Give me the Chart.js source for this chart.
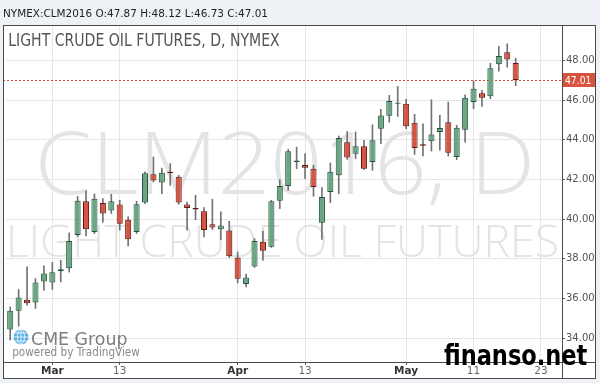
<!DOCTYPE html>
<html>
<head>
<meta charset="utf-8">
<script src="https://cdn.jsdelivr.net/npm/chart.js@4.4.0/dist/chart.umd.min.js"></script>
<style>
html, body { margin: 0; padding: 0; background: #eef1f6; }
canvas { display: block; }
</style>
</head>
<body>
<canvas id="chart" width="600" height="383"></canvas>
<script>
// trading days (last 5 are empty slots to the right of the last bar)
var days = ['Feb 24','Feb 25','Feb 26','Feb 29','Mar 1','Mar 2','Mar 3','Mar 4','Mar 7','Mar 8',
  'Mar 9','Mar 10','Mar 11','Mar 14','Mar 15','Mar 16','Mar 17','Mar 18','Mar 21','Mar 22',
  'Mar 23','Mar 24','Mar 25','Mar 28','Mar 29','Mar 30','Mar 31','Apr 1','Apr 4','Apr 5',
  'Apr 6','Apr 7','Apr 8','Apr 11','Apr 12','Apr 13','Apr 14','Apr 15','Apr 18','Apr 19',
  'Apr 20','Apr 21','Apr 22','Apr 25','Apr 26','Apr 27','Apr 28','Apr 29','May 2','May 3',
  'May 4','May 5','May 6','May 9','May 10','May 11','May 12','May 13','May 16','May 17',
  'May 18','May 19','May 20','May 23','May 24','May 25'];

var open = [34.43, 35.37, 35.93, 35.79, 36.85, 36.80, 37.37, 37.52, 39.20, 40.90,
  39.35, 40.81, 40.43, 40.73, 39.96, 39.35, 40.83, 42.26, 41.84, 42.39,
  42.14, 40.73, 40.56, 40.39, 39.74, 39.49, 39.42, 38.06, 36.73, 37.61,
  38.85, 38.60, 40.93, 41.67, 42.88, 42.73, 42.54, 39.82, 41.37, 42.21,
  43.87, 43.30, 43.67, 42.88, 44.56, 45.21, 45.82, 45.82, 44.86, 43.78,
  43.93, 44.39, 44.89, 43.13, 44.51, 45.90, 46.35, 46.20, 47.81, 48.42, 47.87];
var high = [35.57, 36.45, 37.59, 37.00, 37.64, 37.81, 37.92, 39.30, 41.15, 41.42,
  41.27, 41.03, 41.25, 40.95, 40.11, 40.90, 42.38, 43.13, 42.57, 42.80,
  42.21, 40.86, 41.20, 40.58, 41.00, 40.36, 39.89, 38.34, 37.22, 39.02,
  39.40, 40.95, 41.99, 43.52, 43.63, 43.30, 42.71, 41.59, 42.83, 44.19,
  44.42, 44.39, 43.97, 44.76, 45.53, 46.24, 46.69, 46.04, 45.28, 44.81,
  46.02, 45.23, 45.90, 44.73, 46.27, 46.96, 46.49, 47.86, 48.71, 48.84, 48.12];
var low = [33.90, 34.60, 35.66, 35.49, 36.41, 36.45, 36.83, 37.33, 39.13, 39.15,
  39.27, 39.85, 40.28, 39.44, 38.64, 39.27, 40.78, 41.87, 41.28, 41.70,
  40.75, 39.44, 39.97, 39.10, 39.47, 38.97, 38.06, 36.78, 36.58, 37.56,
  37.92, 38.57, 40.53, 41.45, 42.54, 42.04, 41.15, 38.97, 40.83, 41.28,
  43.01, 43.05, 42.51, 42.46, 43.80, 44.89, 45.18, 44.56, 43.26, 43.18,
  43.43, 43.47, 43.18, 43.00, 43.88, 45.57, 45.68, 46.07, 47.46, 47.66, 46.73];
var close = [35.37, 36.05, 35.75, 36.80, 37.25, 37.32, 37.47, 38.90, 40.93, 39.49,
  41.03, 40.28, 40.90, 39.76, 38.98, 40.75, 42.31, 41.95, 42.34, 42.32,
  40.83, 40.56, 40.48, 39.45, 39.57, 39.67, 38.13, 36.99, 37.05, 38.90,
  38.40, 40.90, 41.67, 43.42, 42.95, 42.59, 41.62, 41.11, 42.39, 44.09,
  43.10, 43.67, 42.54, 43.97, 45.23, 45.95, 45.87, 44.68, 43.58, 43.70,
  44.26, 44.59, 43.35, 44.61, 46.12, 46.57, 46.12, 47.61, 48.22, 48.05, 47.01];

var priceTicks = [34, 36, 38, 40, 42, 44, 46, 48];
// x labels by slot index
var dayTicks = { 5: 'Mar', 13: '13', 27: 'Apr', 35: '13', 47: 'May', 55: '11', 63: '23' };
var lastPrice = 47.01;

var header = 'NYMEX:CLM2016 O:47.87 H:48.12 L:46.73 C:47.01';
var title = 'LIGHT CRUDE OIL FUTURES, D, NYMEX';

var bodies = open.map(function (o, i) { return [o, close[i]]; });
var wicks = open.map(function (o, i) { return [low[i], high[i]]; });
var fills = open.map(function (o, i) { return close[i] >= o ? '#6ba583' : '#d75442'; });
var edges = open.map(function (o, i) { return close[i] >= o ? '#225437' : '#5b1a13'; });

function fitText(ctx, text, left, right, baseline, font, color) {
  ctx.save();
  ctx.font = font;
  ctx.fillStyle = color;
  ctx.textAlign = 'left';
  ctx.textBaseline = 'alphabetic';
  var m = ctx.measureText(text);
  var ink = m.actualBoundingBoxLeft + m.actualBoundingBoxRight;
  ctx.translate(left, baseline);
  ctx.scale((right - left) / ink, 1);
  ctx.fillText(text, m.actualBoundingBoxLeft, 0);
  ctx.restore();
}

var decor = {
  id: 'decor',
  beforeDraw: function (chart) {
    var ctx = chart.ctx;
    ctx.save();
    ctx.fillStyle = '#eef1f6';
    ctx.fillRect(0, 0, 600, 383);
    ctx.fillStyle = '#ffffff';
    ctx.fillRect(3, 25, 592, 353);
    ctx.restore();
    fitText(ctx, header, 4, 267, 17, '11px "DejaVu Sans"', '#222222');
  },
  beforeDatasetsDraw: function (chart) {
    var ctx = chart.ctx;
    var area = chart.chartArea;
    ctx.save();
    ctx.beginPath();
    ctx.rect(3, 25, 559, 337);
    ctx.clip();
    fitText(ctx, 'CLM2016, D', 40, 530, 194, '300 86px "Open Sans"', '#e4e4e4');
    fitText(ctx, 'LIGHT CRUDE OIL FUTURES', 10, 557, 257, '300 44px "Open Sans"', '#e4e4e4');
    fitText(ctx, title, 9, 280, 46, '17px "DejaVu Sans"', '#555555');

    // CME Group logo
    ctx.fillStyle = '#5aaee3';
    ctx.beginPath();
    ctx.arc(21, 337, 7.5, 0, Math.PI * 2);
    ctx.fill();
    ctx.strokeStyle = '#ffffff';
    ctx.lineWidth = 0.8;
    ctx.beginPath();
    ctx.ellipse(21, 337, 3.5, 7.5, 0, 0, Math.PI * 2);
    ctx.moveTo(21, 329.5); ctx.lineTo(21, 344.5);
    ctx.moveTo(13.5, 337); ctx.lineTo(28.5, 337);
    ctx.moveTo(15, 333); ctx.lineTo(27, 333);
    ctx.moveTo(15, 341); ctx.lineTo(27, 341);
    ctx.stroke();
    fitText(ctx, 'CME Group', 32, 127, 345, '18px "DejaVu Sans"', '#7d7d7d');
    fitText(ctx, 'powered by TradingView', 13, 140, 356, '12px "DejaVu Sans"', '#8a8a8a');

    // last price line
    var y = chart.scales.y.getPixelForValue(lastPrice);
    ctx.strokeStyle = '#e0463c';
    ctx.lineWidth = 1;
    ctx.setLineDash([2, 2]);
    ctx.beginPath();
    ctx.moveTo(3, Math.round(y) + 0.5);
    ctx.lineTo(area.right, Math.round(y) + 0.5);
    ctx.stroke();
    ctx.restore();
  },
  afterDraw: function (chart) {
    var ctx = chart.ctx;
    var y = Math.round(chart.scales.y.getPixelForValue(lastPrice));
    ctx.save();
    ctx.fillStyle = '#d9533f';
    ctx.fillRect(562, y - 7, 33, 14);
    ctx.restore();
    fitText(ctx, lastPrice.toFixed(2), 565, 591, y + 4, '10px "DejaVu Sans"', '#ffffff');

    ctx.save();
    ctx.strokeStyle = '#4a4a4a';
    ctx.lineWidth = 1;
    ctx.strokeRect(3.5, 25.5, 592, 353);
    ctx.beginPath();
    ctx.moveTo(562.5, 25); ctx.lineTo(562.5, 378);
    ctx.moveTo(3, 362.5); ctx.lineTo(595, 362.5);
    ctx.stroke();
    ctx.restore();
    fitText(ctx, 'finanso.net', 444, 587, 365, 'bold 28px "DejaVu Sans"', '#000000');
  }
};

new Chart(document.getElementById('chart'), {
  type: 'bar',
  data: {
    labels: days,
    datasets: [
      {
        data: wicks,
        backgroundColor: '#737375',
        barThickness: 1,
        grouped: false,
        order: 2
      },
      {
        data: bodies,
        backgroundColor: fills,
        borderColor: edges,
        borderWidth: 1,
        borderSkipped: false,
        barPercentage: 0.72,
        categoryPercentage: 1,
        grouped: false,
        order: 1
      }
    ]
  },
  options: {
    responsive: false,
    animation: false,
    events: [],
    layout: { padding: { left: 6, top: 25, right: 5, bottom: 5 } },
    plugins: { legend: { display: false }, tooltip: { enabled: false } },
    scales: {
      x: {
        afterFit: function (scale) { scale.height = 16; },
        border: { display: false },
        grid: {
          offset: false,
          color: function (c) { return dayTicks[c.index] ? '#e6e6e6' : 'rgba(0,0,0,0)'; },
          tickColor: function (c) { return dayTicks[c.index] ? '#555555' : 'rgba(0,0,0,0)'; },
          tickLength: 3
        },
        ticks: {
          autoSkip: false,
          maxRotation: 0,
          minRotation: 0,
          padding: 0,
          callback: function (v, i) { return dayTicks[i] || ''; },
          color: function (c) { return /[A-Za-z]/.test(dayTicks[c.index] || '') ? '#333333' : '#666666'; },
          font: function (c) {
            return { family: 'DejaVu Sans', size: 10.5, weight: /[A-Za-z]/.test(dayTicks[c.index] || '') ? 'bold' : 'normal' };
          }
        }
      },
      y: {
        position: 'right',
        min: 32.79,
        max: 49.79,
        afterFit: function (scale) { scale.width = 33; },
        afterBuildTicks: function (scale) {
          scale.ticks = priceTicks.map(function (v) { return { value: v }; });
        },
        border: { display: false },
        grid: { color: '#e6e6e6', tickColor: '#555555', tickLength: 3 },
        ticks: {
          padding: 1,
          color: '#555555',
          font: { family: 'DejaVu Sans', size: 10 },
          callback: function (v) { return v.toFixed(2); }
        }
      }
    }
  },
  plugins: [decor]
});
</script>
</body>
</html>
